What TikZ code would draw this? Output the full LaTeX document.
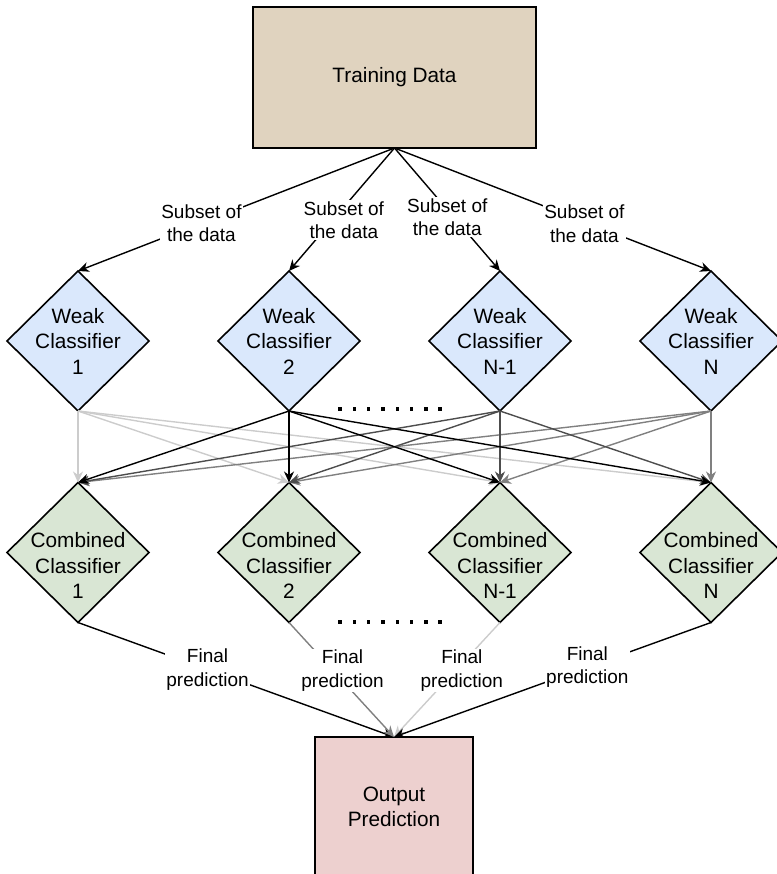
\documentclass[tikz,border=0pt]{standalone}
\usepackage{fontspec}
\setmainfont{Liberation Sans}
\usetikzlibrary{shapes.geometric, arrows.meta}

\definecolor{trainbrown}{HTML}{E0D3BF}
\definecolor{weakblue}{HTML}{DAE8FC}
\definecolor{combgreen}{HTML}{D9E6D4}
\definecolor{outpink}{HTML}{EDD0CF}
\definecolor{lgray}{HTML}{CCCCCC}
\definecolor{mgray}{HTML}{808080}
\definecolor{dgray}{HTML}{4D4D4D}

\begin{document}
\begin{tikzpicture}[x=1pt, y=1pt,
	box/.style={draw, line width=1.6pt, inner sep=0pt, outer sep=0pt, align=center, font=\fontsize{20.8}{25.5}\selectfont},
	weak/.style={diamond, draw, line width=1.6pt, fill=weakblue, minimum width=142pt, minimum height=140pt, inner sep=0pt, outer sep=0pt},
	comb/.style={weak, fill=combgreen},
	dlabel/.style={align=center, font=\fontsize{20.8}{25.5}\selectfont},
	elabel/.style={fill=white, inner sep=1pt, align=center, font=\fontsize{19}{23.5}\selectfont},
	arr/.style={-{Stealth[length=11pt, width=10pt, inset=3.5pt]}, line width=1.4pt},
]
				\useasboundingbox (0,0) rectangle (776,-874);
				
				\node[box, fill=trainbrown, minimum width=283pt, minimum height=141pt] (train) at (394.5,-77.5) {Training Data};
				
				\node[weak, label={[dlabel]center:{Weak\\Classifier\\1}}] (w1) at (78,-341) {};
				\node[weak, label={[dlabel]center:{Weak\\Classifier\\2}}] (w2) at (289,-341) {};
				\node[weak, label={[dlabel]center:{Weak\\Classifier\\N-1}}] (w3) at (500,-341) {};
				\node[weak, label={[dlabel]center:{Weak\\Classifier\\N}}] (w4) at (711,-341) {};
				
				\node[comb, label={[dlabel, yshift=-13pt]center:{Combined\\Classifier\\1}}] (c1) at (78,-552.5) {};
				\node[comb, label={[dlabel, yshift=-13pt]center:{Combined\\Classifier\\2}}] (c2) at (289,-552.5) {};
				\node[comb, label={[dlabel, yshift=-13pt]center:{Combined\\Classifier\\N-1}}] (c3) at (500,-552.5) {};
				\node[comb, label={[dlabel, yshift=-13pt]center:{Combined\\Classifier\\N}}] (c4) at (711,-552.5) {};
				
				\node[box, fill=outpink, minimum width=158pt, minimum height=140pt] (out) at (394,-807) {Output\\Prediction};
				
				% data subsets
				\draw[arr] (train.south) -- node[elabel, pos=0.61]{Subset of\\the data} (w1.north);
				\draw[arr] (train.south) -- node[elabel, pos=0.48, yshift=-13pt]{Subset of\\the data} (w2.north);
				\draw[arr] (train.south) -- node[elabel, pos=0.5, yshift=-7.5pt]{Subset of\\the data} (w3.north);
				\draw[arr] (train.south) -- node[elabel, pos=0.6, yshift=-2pt]{Subset of\\the data} (w4.north);
				
				% every weak classifier feeds every combined one
				\foreach \s/\col in {1/lgray, 4/mgray, 3/dgray, 2/black}
					\foreach \t in {1,...,4}
						\draw[arr, color=\col] (w\s.south) -- (c\t.north);
				
				% final predictions
				\draw[arr] (c1.south) -- node[elabel, pos=0.41]{Final\\prediction} (out.north);
				\draw[arr, color=mgray] (c2.south) -- node[elabel, pos=0.51, yshift=10.5pt, text=black]{Final\\prediction} (out.north);
				\draw[arr, color=lgray] (c3.south) -- node[elabel, pos=0.36, yshift=-7pt, text=black]{Final\\prediction} (out.north);
				\draw[arr] (c4.south) -- node[elabel, pos=0.39]{Final\\prediction} (out.north);
				
				% dots
				\foreach \i in {0,...,7} {
					\fill (340+14.3*\i-1.7,-410.7) rectangle ++(3.4,3.4);
					\fill (340+14.3*\i-1.7,-623.7) rectangle ++(3.4,3.4);
				}
			\end{tikzpicture}
\end{document}
